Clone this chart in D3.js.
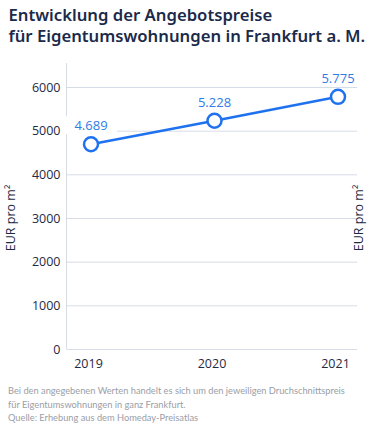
<!DOCTYPE html>
<html>
<head>
<meta charset="utf-8">
<script src="https://cdn.jsdelivr.net/npm/d3@7"></script>
<style>
  body { margin: 0; background: #fff; }
  svg { display: block; font-family: 'Open Sans', sans-serif; }
</style>
</head>
<body>
<div id="chart"></div>
<script>
// Angebotspreise Eigentumswohnungen Frankfurt (EUR pro m²)
const years = ['2019', '2020', '2021']
const prices = [4689, 5228, 5775]
const yTicks = [0, 1000, 2000, 3000, 4000, 5000, 6000]
const titleLines = ['Entwicklung der Angebotspreise', 'für Eigentumswohnungen in Frankfurt a. M.']
const noteLines = [
  'Bei den angegebenen Werten handelt es sich um den jeweiligen Druchschnittspreis',
  'für Eigentumswohnungen in ganz Frankfurt.',
  'Quelle: Erhebung aus dem Homeday-Preisatlas'
]

const W = 375, H = 429
const plot = { left: 66.5, right: 357, top: 63, bottom: 349 }

const svg = d3.select('#chart').append('svg')
  .attr('width', W)
  .attr('height', H)

// shrink a block of lines so its widest line fits maxW
function fitLines(sel, startSize, maxW) {
  let size = startSize
  sel.style('font-size', size + 'px')
  const widest = d3.max(sel.nodes(), n => n.getComputedTextLength())
  if (widest > maxW) {
    size = size * maxW / widest
    sel.style('font-size', size + 'px')
  }
}

// Title
const title = svg.append('g').selectAll('text')
  .data(titleLines)
  .enter().append('text')
  .attr('x', 8.5)
  .attr('y', (d, i) => 21 + i * 21)
  .style('font-family', "'Noto Sans', sans-serif")
  .style('font-weight', 600)
  .style('fill', '#1b2a4a')
  .text(d => d)
fitLines(title, 18, 357)

const x = d3.scalePoint()
  .domain(years)
  .range([plot.left + 24.5, plot.right - 19])

const y = d3.scaleLinear()
  .domain([0, 6550])
  .range([plot.bottom, plot.top])

// Gridlines + y labels
const yAxis = d3.axisLeft(y)
  .tickValues(yTicks)
  .tickSize(-(plot.right - plot.left))
  .tickPadding(6)
  .tickFormat(d3.format('d'))

const gy = svg.append('g')
  .attr('transform', `translate(${plot.left},0)`)
  .call(yAxis)
gy.select('.domain').remove()
gy.selectAll('.tick line').attr('stroke', '#d6dce6').attr('stroke-width', 1)
gy.selectAll('.tick text')
  .style('font-size', '12.5px')
  .style('font-family', "'Open Sans', sans-serif")
  .style('fill', '#1f2a44')

// left axis line
svg.append('line')
  .attr('x1', plot.left).attr('x2', plot.left)
  .attr('y1', plot.top).attr('y2', plot.bottom)
  .attr('stroke', '#d6dce6')

// x labels
const xAxis = d3.axisBottom(x).tickSize(0).tickPadding(10)
const gx = svg.append('g')
  .attr('transform', `translate(0,${plot.bottom})`)
  .call(xAxis)
gx.select('.domain').remove()
gx.selectAll('.tick text')
  .attr('dx', -3)
  .style('font-size', '12.5px')
  .style('font-family', "'Open Sans', sans-serif")
  .style('fill', '#1f2a44')

// axis titles, both sides
;[15, 363].forEach(px => {
  svg.append('text')
    .attr('transform', `translate(${px},218) rotate(-90)`)
    .attr('text-anchor', 'middle')
    .style('font-size', '12.5px')
    .style('fill', '#1f2a44')
    .text('EUR pro m²')
})

// Line
const data = years.map((yr, i) => ({ year: yr, value: prices[i] }))
const line = d3.line().x(d => x(d.year)).y(d => y(d.value))

svg.append('path')
  .datum(data)
  .attr('d', line)
  .attr('fill', 'none')
  .attr('stroke', '#1f72ef')
  .attr('stroke-width', 2.5)

// value labels with white background
const fmt = v => d3.format(',')(v).replace(',', '.')
const labels = svg.append('g').selectAll('g')
  .data(data)
  .enter().append('g')
  .attr('transform', d => `translate(${x(d.year)},${y(d.value) - 14})`)

labels.append('rect')
  .attr('x', -26).attr('y', -14)
  .attr('width', 52).attr('height', 18)
  .attr('fill', '#fff')

labels.append('text')
  .attr('text-anchor', 'middle')
  .style('font-size', '13px')
  .style('fill', '#2f7de6')
  .text(d => fmt(d.value))

svg.append('g').selectAll('circle')
  .data(data)
  .enter().append('circle')
  .attr('cx', d => x(d.year))
  .attr('cy', d => y(d.value))
  .attr('r', 7)
  .attr('fill', '#fff')
  .attr('stroke', '#1f72ef')
  .attr('stroke-width', 2.5)

// Footnote
const notes = svg.append('g').selectAll('text')
  .data(noteLines)
  .enter().append('text')
  .attr('x', 8)
  .attr('y', (d, i) => 394 + i * 13.5)
  .style('font-family', "Lato, sans-serif")
  .style('fill', '#9a9ea6')
  .text(d => d)
fitLines(notes, 12, 337)
</script>
</body>
</html>
